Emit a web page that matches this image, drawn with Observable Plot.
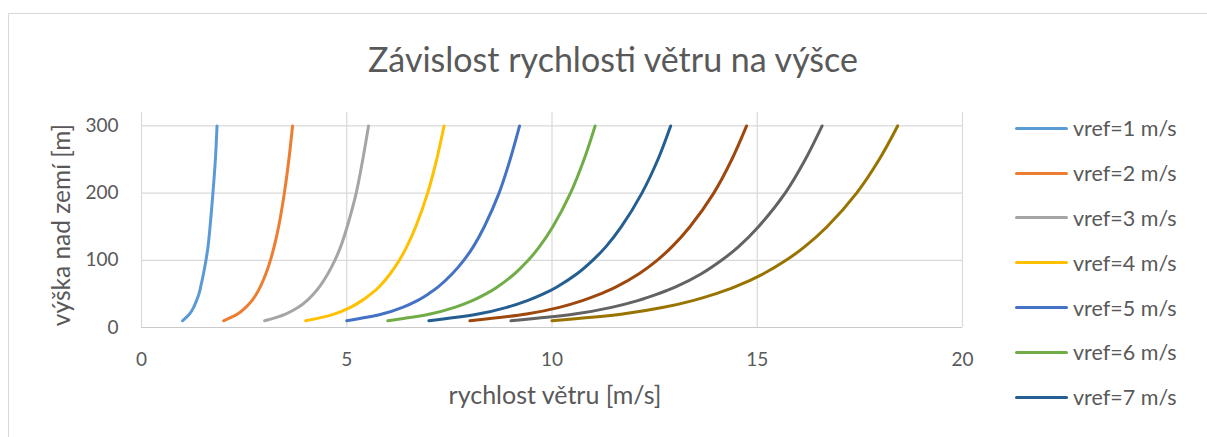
<!DOCTYPE html>
<html>
<head>
<meta charset="utf-8">
<script src="https://cdn.jsdelivr.net/npm/d3@7"></script>
<script src="https://cdn.jsdelivr.net/npm/@observablehq/plot@0.6"></script>
<style>
  html, body { margin: 0; padding: 0; background: #fff; }
  #wrap { position: relative; width: 1207px; height: 437px; overflow: hidden; font-family: Lato, "Open Sans", sans-serif; color: #595959; }
  #frame { position: absolute; left: 8px; top: 13px; width: 1230px; height: 460px; border: 1px solid #D9D9D9; box-sizing: border-box; }
  #chart { position: absolute; left: 0; top: 0; }
  #title { position: absolute; left: 0; width: 1226px; top: 38px; text-align: center; font-size: 34px; font-weight: 400; white-space: nowrap; }
  #ytitle { position: absolute; left: 60px; top: 225px; transform: translate(-50%, -50%) rotate(-90deg); font-size: 24.5px; white-space: nowrap; }
  #xtitle { position: absolute; left: 555px; top: 394px; transform: translate(-50%, -50%); font-size: 25px; white-space: nowrap; }
  #legend { position: absolute; left: 1015px; top: 106px; }
  .item { display: flex; align-items: center; height: 44.8px; font-size: 21.5px; white-space: nowrap; }
  .swatch { width: 53px; height: 3px; border-radius: 2px; margin-right: 5px; }
</style>
</head>
<body>
<div id="wrap">
  <div id="frame"></div>
  <div id="chart"></div>
  <div id="title">Závislost rychlosti větru na výšce</div>
  <div id="ytitle">výška nad zemí [m]</div>
  <div id="xtitle">rychlost větru [m/s]</div>
  <div id="legend"></div>
</div>
<script>
// heights above ground [m]
const heights = [10, 20, 30, 40, 50, 60, 80, 100, 120, 150, 200, 250, 300];
// wind speeds [m/s], one list per series
const v1  = [1, 1.17, 1.27, 1.34, 1.40, 1.44, 1.51, 1.57, 1.62, 1.67, 1.74, 1.80, 1.84];
const v2  = [2, 2.34, 2.54, 2.69, 2.80, 2.89, 3.03, 3.14, 3.23, 3.34, 3.48, 3.59, 3.68];
const v3  = [3, 3.51, 3.82, 4.03, 4.19, 4.33, 4.54, 4.71, 4.85, 5.01, 5.23, 5.39, 5.53];
const v4  = [4, 4.69, 5.09, 5.37, 5.59, 5.78, 6.06, 6.28, 6.46, 6.68, 6.97, 7.19, 7.37];
const v5  = [5, 5.86, 6.36, 6.72, 6.99, 7.22, 7.57, 7.85, 8.08, 8.35, 8.71, 8.98, 9.21];
const v6  = [6, 7.03, 7.63, 8.06, 8.39, 8.66, 9.09, 9.42, 9.69, 10.02, 10.45, 10.78, 11.05];
const v7  = [7, 8.20, 8.90, 9.40, 9.79, 10.11, 10.61, 10.99, 11.31, 11.69, 12.19, 12.58, 12.89];
const v8  = [8, 9.38, 10.18, 10.74, 11.18, 11.55, 12.12, 12.56, 12.92, 13.36, 13.94, 14.38, 14.74];
const v9  = [9, 10.55, 11.45, 12.09, 12.58, 13.00, 13.64, 14.13, 14.54, 15.03, 15.68, 16.17, 16.58];
const v10 = [10, 11.72, 12.72, 13.43, 13.98, 14.44, 15.15, 15.70, 16.15, 16.70, 17.42, 17.97, 18.42];
const seriesNames = ["vref=1 m/s", "vref=2 m/s", "vref=3 m/s", "vref=4 m/s", "vref=5 m/s",
                     "vref=6 m/s", "vref=7 m/s", "vref=8 m/s", "vref=9 m/s", "vref=10 m/s"];
const seriesColors = ["#5B9BD5", "#ED7D31", "#A5A5A5", "#FFC000", "#4472C4",
                      "#70AD47", "#255E91", "#9E480E", "#636363", "#997300"];
// legend entries that are visible in the (cropped) reference
const legendVisible = 7;
const xTicks = [0, 5, 10, 15, 20];
const yTicks = [0, 100, 200, 300];

const seriesValues = [v1, v2, v3, v4, v5, v6, v7, v8, v9, v10];
const rows = [];
seriesValues.forEach((vals, i) => {
  vals.forEach((v, j) => rows.push({s: seriesNames[i], v, h: heights[j]}));
});

const chart = Plot.plot({
  width: 1207,
  height: 437,
  marginLeft: 141,
  marginRight: 245,
  marginTop: 112,
  marginBottom: 110,
  x: {domain: [0, 20]},
  y: {domain: [0, 320]},
  color: {domain: seriesNames, range: seriesColors},
  style: {background: "transparent", color: "#595959", fontFamily: "Lato, sans-serif"},
  marks: [
    Plot.ruleY([100, 200, 300], {stroke: "#D9D9D9", strokeWidth: 1.2}),
    Plot.ruleX(xTicks, {stroke: "#D9D9D9", strokeWidth: 1.2}),
    Plot.ruleY([0], {stroke: "#C9C9C9", strokeWidth: 1.2}),
    Plot.axisX({ticks: xTicks, tickSize: 0, tickPadding: 25, fontSize: 19, label: null, tickFormat: d => String(d)}),
    Plot.axisY({ticks: yTicks, tickSize: 0, tickPadding: 23, fontSize: 19, label: null, tickFormat: d => String(d)}),
    Plot.line(rows, {x: "v", y: "h", z: "s", stroke: "s", strokeWidth: 3, curve: "catmull-rom", strokeLinecap: "round", strokeLinejoin: "round"})
  ]
});
document.getElementById("chart").appendChild(chart);

const legend = document.getElementById("legend");
seriesNames.slice(0, legendVisible).forEach((name, i) => {
  const item = document.createElement("div");
  item.className = "item";
  const sw = document.createElement("div");
  sw.className = "swatch";
  sw.style.background = seriesColors[i];
  const label = document.createElement("span");
  label.textContent = name;
  item.appendChild(sw);
  item.appendChild(label);
  legend.appendChild(item);
});
</script>
</body>
</html>
